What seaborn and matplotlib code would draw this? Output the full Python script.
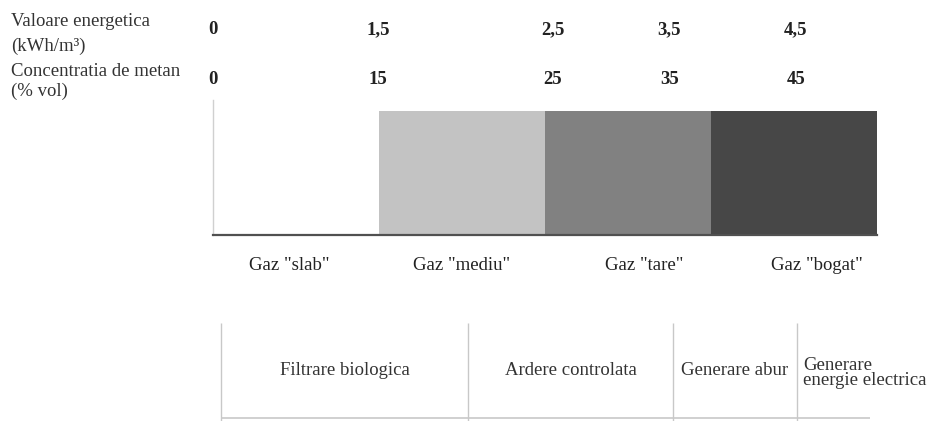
import matplotlib
matplotlib.use('Agg')
import matplotlib.pyplot as plt
import matplotlib.transforms as mtransforms
import seaborn as sns
import pandas as pd

sns.set_theme(style='white')
plt.rcParams['font.family'] = ['Liberation Serif', 'DejaVu Serif']

# data
gas_types = ['Gaz "slab"', 'Gaz "mediu"', 'Gaz "tare"', 'Gaz "bogat"']
gas_level = [0, 1, 1, 1]
gas_colors = ['#ffffff', '#c3c3c3', '#818181', '#474747']
energy_values = ['0', '1,5', '2,5', '3,5', '4,5']
methane_values = ['0', '15', '25', '35', '45']
row_labels = [('Valoare energetica', '(kWh/m³)'),
              ('Concentratia de metan', '(% vol)')]
uses = ['Filtrare biologica', 'Ardere controlata', 'Generare abur',
        'Generare\nenergie electrica']
use_edges = [0.0, 0.381, 0.696, 0.887]

W, H = 940, 421
fig = plt.figure(figsize=(W / 100, H / 100), dpi=100)


def fx(px):
    return px / W


def fy(py):
    return 1 - py / H


fs = 13.5

# Gas bar strip
ax = fig.add_axes([fx(213), fy(235), fx(877) - fx(213), fy(100) - fy(235)])
df = pd.DataFrame({'gas': gas_types, 'level': gas_level})
sns.barplot(data=df, x='gas', y='level', hue='gas',
            palette=dict(zip(gas_types, gas_colors)), width=1.0,
            linewidth=0, legend=False, ax=ax)
ax.set_xlim(-0.5, len(gas_types) - 0.5)
ax.set_ylim(0, 135 / 124)
ax.set_xlabel('')
ax.set_ylabel('')
ax.set_yticks([])
for s in ['top', 'right']:
    ax.spines[s].set_visible(False)
ax.spines['left'].set_color('#d0d0d0')
ax.spines['left'].set_linewidth(1.0)
ax.spines['bottom'].set_color('#505050')
ax.spines['bottom'].set_linewidth(1.6)
ax.set_xticks([-0.04, 1.0, 2.1, 3.14], labels=gas_types)
ax.tick_params(axis='x', length=0, pad=16, labelsize=fs, colors='#222222')

# header rows: values above the strip
blend = mtransforms.blended_transform_factory(ax.transData, fig.transFigure)
header_x = [-0.5, 0.495, 1.545, 2.25, 3.01]
for row_y, vals in [(30, energy_values), (79, methane_values)]:
    for x, v in zip(header_x, vals):
        fig.text(x, fy(row_y), v, transform=blend, ha='center', va='center',
                 fontsize=fs, fontweight='bold', color='#222222')
for (l1, l2), (y1, y2) in zip(row_labels, [(21, 46), (72, 91)]):
    fig.text(fx(11), fy(y1), l1, ha='left', va='center', fontsize=fs,
             color='#333333')
    fig.text(fx(11), fy(y2), l2, ha='left', va='center', fontsize=fs,
             color='#333333')

# usage table
tab = fig.add_axes([fx(221), fy(418), fx(870) - fx(221), fy(323) - fy(418)])
tab.set_xlim(0, 1)
tab.set_ylim(0, 1)
tab.axis('off')
tab.vlines(use_edges, -0.03, 1, color='#c8c8c8', linewidth=1.0, clip_on=False)
tab.hlines(0, 0, 1, color='#c8c8c8', linewidth=1.2, clip_on=False)
bounds = use_edges + [1.0]
for i, u in enumerate(uses):
    if '\n' in u:
        tab.text(bounds[i] + 0.01, 0.47, u, ha='left', va='center',
                 fontsize=fs, color='#333333', linespacing=0.85)
    else:
        tab.text((bounds[i] + bounds[i + 1]) / 2, 0.5, u, ha='center',
                 va='center', fontsize=fs, color='#333333')

fig.savefig('out.png', dpi=100)
